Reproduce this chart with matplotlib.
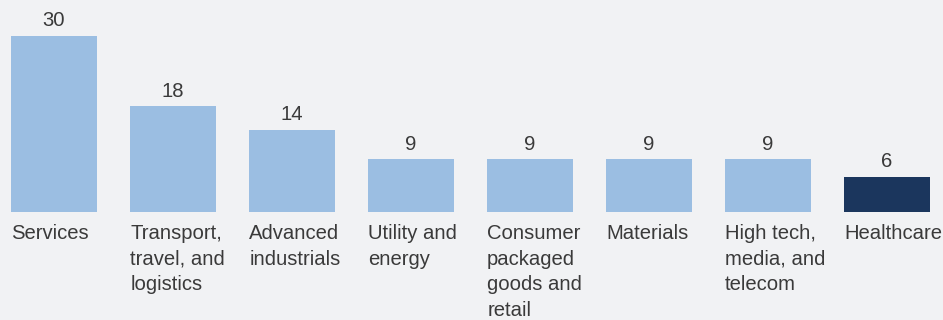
import matplotlib
matplotlib.use('Agg')
import matplotlib.pyplot as plt

plt.rcParams['font.family'] = ['Liberation Sans', 'DejaVu Sans']

categories = ['Services', 'Transport,\ntravel, and\nlogistics', 'Advanced\nindustrials',
              'Utility and\nenergy', 'Consumer\npackaged\ngoods and\nretail', 'Materials',
              'High tech,\nmedia, and\ntelecom', 'Healthcare']
values = [30, 18, 14, 9, 9, 9, 9, 6]
highlight = 'Healthcare'

bg = '#f1f2f4'
light = '#9bbee2'
dark = '#1b365d'
txt = '#3a3a3a'

fig = plt.figure(figsize=(9.43, 3.2), dpi=100, facecolor=bg)
ax = fig.add_axes([0, 108 / 320, 1, 212 / 320])
ax.set_facecolor(bg)

w = 0.72
x = list(range(len(categories)))
colors = [dark if c == highlight else light for c in categories]
ax.bar(x, values, width=w, color=colors)

for i, v in enumerate(values):
    ax.annotate(str(v), xy=(i, v), xytext=(0, 4), textcoords='offset points',
                ha='center', va='bottom', fontsize=14.6, color=txt)

for i, c in enumerate(categories):
    ax.annotate(c, xy=(i - w / 2, 0), xytext=(0, -8.5), textcoords='offset points',
                ha='left', va='top', fontsize=14.6, color=txt, linespacing=1.45,
                annotation_clip=False)

ax.set_xlim(-54 / 119, 889 / 119)
ax.set_ylim(0, 212 / 5.87)
ax.axis('off')

fig.savefig('out.png', dpi=100, facecolor=bg)
